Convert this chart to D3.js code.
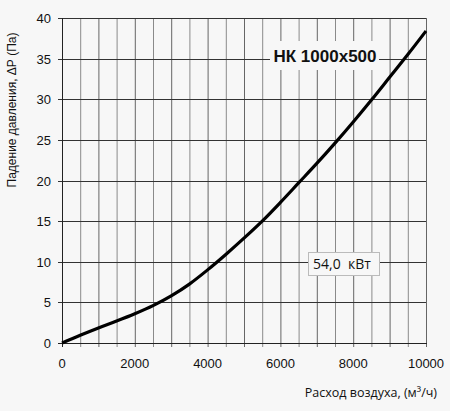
<!DOCTYPE html>
<html><head><meta charset="utf-8">
<script src="https://cdn.jsdelivr.net/npm/d3@7"></script>
<style>html,body{margin:0;padding:0;background:#f7f7f7;}svg{display:block;}</style>
</head><body>
<svg id="c" width="450" height="411"></svg>
<script>
const flow = [0,500,1000,1500,2000,2500,3000,3500,4000,4500,5000,5500,6000,6500,7000,7500,8000,8500,9000,9500,10000];
const pressure = [0,0.95,1.85,2.7,3.6,4.6,5.8,7.25,9.0,10.9,12.9,15.0,17.3,19.7,22.1,24.6,27.2,29.9,32.7,35.5,38.4];
const xTicks = [0,2000,4000,6000,8000,10000];
const yTicks = [0,5,10,15,20,25,30,35,40];
const xGrid = d3.range(0,10001,500);
const title = "НК 1000x500";
const power = "54,0  кВт";
const xLabel = "Расход воздуха, (м³/ч)";
const yLabel = "Падение давления, ΔР (Па)";

const svg = d3.select("#c");
const L=62,R=426,T=18,B=343;
const x = d3.scaleLinear().domain([0,10000]).range([L,R]);
const y = d3.scaleLinear().domain([0,40]).range([B,T]);

// vertical grid
svg.append("g").selectAll("line").data(xGrid.slice(1)).join("line")
  .attr("x1",d=>x(d)+0.5).attr("x2",d=>x(d)+0.5).attr("y1",T).attr("y2",B+4)
  .attr("stroke",d=>d%1000===0?"#666":"#8a8a8a").attr("stroke-width",1);
// horizontal grid
svg.append("g").selectAll("line").data(yTicks.slice(1)).join("line")
  .attr("x1",L-4).attr("x2",R).attr("y1",d=>Math.round(y(d))+0.5).attr("y2",d=>Math.round(y(d))+0.5)
  .attr("stroke","#333").attr("stroke-width",1);
// axes lines
svg.append("line").attr("x1",L+0.5).attr("x2",L+0.5).attr("y1",T).attr("y2",B+4).attr("stroke","#222");
svg.append("line").attr("x1",L-4).attr("x2",R+1).attr("y1",B+0.5).attr("y2",B+0.5).attr("stroke","#222");

// tick labels
svg.append("g").selectAll("text").data(yTicks).join("text")
  .attr("x",51).attr("y",d=>y(d)+5).attr("text-anchor","end")
  .attr("font-family","Liberation Sans, Arial, sans-serif").attr("font-size",13).attr("fill","#111").text(d=>d);
svg.append("g").selectAll("text").data(xTicks).join("text")
  .attr("x",d=>x(d)).attr("y",368).attr("text-anchor","middle")
  .attr("font-family","Liberation Sans, Arial, sans-serif").attr("font-size",13).attr("fill","#111").text(d=>d);

// axis labels
svg.append("text").attr("transform","translate(16,110) rotate(-90)").attr("text-anchor","middle")
  .attr("font-family","Liberation Sans, Arial, sans-serif").attr("font-size",12).attr("fill","#111").text(yLabel);
svg.append("text").attr("x",437).attr("y",397).attr("text-anchor","end")
  .attr("font-family","Open Sans, sans-serif").attr("font-size",12.5).attr("fill","#111").text(xLabel);

// curve
const line = d3.line().x((d,i)=>x(flow[i])).y(d=>y(d)).curve(d3.curveMonotoneX);
svg.append("path").attr("d",line(pressure)).attr("fill","none").attr("stroke","#000").attr("stroke-width",3.2);

// title box
svg.append("rect").attr("x",270).attr("y",41).attr("width",109).attr("height",29).attr("fill","#f7f7f7");
svg.append("text").attr("x",325).attr("y",62).attr("text-anchor","middle")
  .attr("font-family","Liberation Sans, Arial, sans-serif").attr("font-weight","bold").attr("font-size",17).attr("fill","#111").text(title);

// power box
svg.append("rect").attr("x",308.5).attr("y",252.5).attr("width",71).attr("height",23).attr("fill","#f7f7f7").attr("stroke","#bbb");
svg.append("text").attr("x",313).attr("y",269).attr("xml:space","preserve")
  .attr("font-family","Open Sans, sans-serif").attr("font-size",14).attr("fill","#111").text(power);
</script>
</body></html>
